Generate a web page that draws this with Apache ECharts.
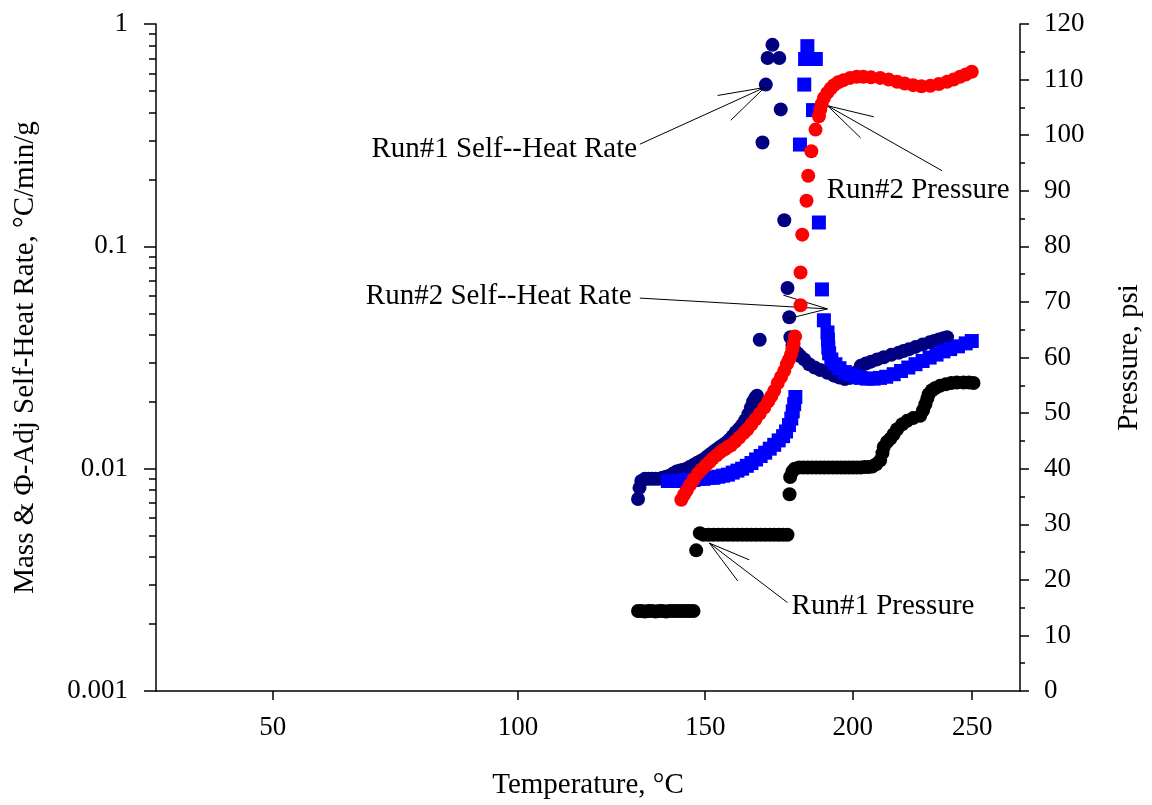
<!DOCTYPE html>
<html><head><meta charset="utf-8">
<script src="https://cdn.jsdelivr.net/npm/echarts@6/dist/echarts.min.js"></script>
<style>html,body{margin:0;padding:0;background:#fff}#c{width:1152px;height:805px}</style>
</head><body><div id="c"></div>
<script>
// ---- data (temperature in °C) ----
const tempTicks = [50, 100, 150, 200, 250];
const tempRange = [30.6, 273.1];
const rateRange = [0.001, 1];
const pressureRange = [0, 120];
const pressureStep = 10;

// Run#1 self-heat rate [T, °C/min/g]
const run1Rate = [
 [130.6,0.0073],[131.0,0.0082],[131.5,0.0088],[132.5,0.0090],[133.5,0.0090],[134.5,0.0090],[135.5,0.0090],
 [136.5,0.0090],[137.5,0.0091],[138.5,0.0092],[139.5,0.0093],[140.5,0.0095],[141.5,0.0097],[142.5,0.0098],
 [143.5,0.0099],[144.5,0.0100],[145.5,0.0102],[146.5,0.0104],[147.5,0.0106],[148.5,0.0108],[149.5,0.0110],
 [150.5,0.0113],[151.5,0.0116],[152.5,0.0119],[153.5,0.0122],[154.5,0.0125],[155.5,0.0128],[156.5,0.0131],
 [157.5,0.0135],[158.5,0.0140],[159.5,0.0146],[160.5,0.0151],[161.5,0.0157],[162.5,0.0165],[163.5,0.0176],
 [164.3,0.0188],[165.0,0.0200],[165.7,0.0208],[166.3,0.0213],
 [167.2,0.038],[168.1,0.293],[169.2,0.534],[169.8,0.703],[171.4,0.806],[173.7,0.703],[174.2,0.413],
 [175.4,0.131],[176.5,0.065],[177.1,0.048],
 [177.5,0.039],[178.2,0.036],[179.0,0.034],[180.0,0.033],[181.0,0.032],[182.3,0.031],[184.0,0.0295],
 [186.0,0.0285],[188.0,0.0278],[190.6,0.0270],[193.0,0.0262],[195.0,0.0257],[197.0,0.0253],[199.0,0.0256],
 [201.0,0.0270],[203.0,0.0290],[205.0,0.0297],[207.0,0.0303],[209.4,0.0310],[212.0,0.0317],[215.0,0.0325],
 [218.0,0.0332],[220.0,0.0338],[222.2,0.0344],[225.0,0.0353],[228.0,0.0362],[231.0,0.0370],[233.0,0.0375],
 [235.0,0.0381],[237.0,0.0386],[238.6,0.0390]
];

// Run#2 self-heat rate [T, °C/min/g]
const run2Rate = [
 [139.0,0.0088],[140.5,0.0088],[142.0,0.0088],[143.5,0.0089],[145.0,0.0089],[146.5,0.0089],[148.0,0.0090],
 [149.5,0.0090],[151.0,0.0091],[152.5,0.0091],[154.0,0.0092],[155.5,0.0093],[157.0,0.0094],[158.5,0.0096],
 [160.0,0.0098],[161.5,0.0100],[163.0,0.0103],[164.5,0.0106],[166.0,0.0110],[167.5,0.0114],[169.0,0.0118],
 [170.5,0.0123],[172.0,0.0128],[173.5,0.0134],[175.0,0.0140],[176.0,0.0147],[177.0,0.0157],[177.8,0.0168],
 [178.3,0.0181],[178.8,0.0195],[179.2,0.0210],
 [180.8,0.287],[182.3,0.534],[183.4,0.795],[182.6,0.696],[186.4,0.696],[185.4,0.41],[187.5,0.128],
 [188.6,0.064],[189.3,0.0465],
 [190.6,0.041],[190.8,0.038],[190.9,0.035],[191.2,0.033],[192.0,0.031],[193.5,0.0295],[195.0,0.0283],
 [197.0,0.0272],[199.0,0.0265],[201.0,0.0260],[203.0,0.0256],[205.5,0.0254],[208.0,0.0254],[210.5,0.0256],
 [213.0,0.0259],[216.0,0.0266],[219.0,0.0275],[222.0,0.0285],[225.0,0.0295],[228.0,0.0305],[231.0,0.0316],
 [234.0,0.0326],[237.0,0.0337],[240.0,0.0345],[243.5,0.0355],[247.0,0.0366],[249.8,0.0375]
];

// Run#1 pressure [T, psi]
const run1Pressure = [
 [130.6,14.4],[131.5,14.4],[132.5,14.3],[133.5,14.4],[134.5,14.4],[135.5,14.3],[136.5,14.4],[137.5,14.4],
 [138.5,14.3],[139.5,14.4],[140.5,14.4],[141.5,14.4],[142.5,14.4],[143.5,14.4],[144.5,14.4],[145.5,14.4],[146.5,14.4],
 [147.3,25.3],
 [148.4,28.4],[149.5,28.1],[151.0,28.1],[152.5,28.1],[154.0,28.1],[155.5,28.1],[157.0,28.1],[158.5,28.1],
 [160.0,28.1],[161.5,28.1],[163.0,28.1],[164.5,28.1],[166.0,28.1],[167.5,28.1],[169.0,28.1],[170.5,28.1],
 [172.0,28.1],[173.5,28.1],[175.0,28.1],[176.5,28.1],
 [177.2,35.4],
 [177.4,38.5],[178.2,39.5],[179.0,40.0],[180.5,40.2],[182.0,40.2],[183.5,40.2],[185.0,40.2],[186.5,40.2],
 [188.0,40.2],[189.5,40.2],[191.0,40.2],[192.5,40.2],[194.0,40.2],[195.5,40.2],[197.0,40.2],[198.5,40.2],
 [200.0,40.2],[201.5,40.2],[203.0,40.2],[204.5,40.3],[206.0,40.3],[207.5,40.4],[209.0,40.8],[210.6,41.5],
 [211.5,42.8],[212.0,43.9],[213.3,44.8],[214.7,45.4],[216.0,46.2],[217.4,47.1],[219.5,48.0],[221.5,48.6],
 [224.0,49.1],[227.0,49.5],[228.2,50.5],[229.2,51.6],[230.0,52.6],[230.6,53.4],[232.0,54.1],[233.5,54.5],
 [235.5,54.9],[238.0,55.2],[240.5,55.4],[243.0,55.5],[246.0,55.5],[248.5,55.5],[250.6,55.4]
];

// Run#2 pressure [T, psi]
const run2Pressure = [
 [142.9,34.4],[143.7,35.3],[144.5,36.1],[145.5,37.1],[146.6,38.1],[147.8,39.1],[149.0,39.9],[150.2,40.6],
 [151.3,41.2],[152.3,41.8],[153.5,42.4],[154.7,43.0],[156.0,43.5],[157.0,43.9],[158.0,44.2],[159.3,44.9],
 [160.6,45.6],[162.0,46.4],[163.2,47.1],[164.5,48.0],[165.8,48.9],[167.2,49.9],[168.7,51.0],[170.0,52.1],
 [171.0,53.0],[172.0,54.0],[173.2,55.4],[174.3,56.5],[175.4,57.6],[176.3,58.8],[177.0,59.6],[177.7,60.5],
 [178.2,61.5],[178.6,62.5],[179.1,63.8],
 [181.0,69.4],[181.0,75.3],[181.6,82.1],[183.1,88.2],[183.7,92.7],[184.8,97.1],[186.3,101.0],
 [187.5,103.4],[188.0,104.6],[188.5,105.6],[189.3,106.7],[190.5,107.6],[191.8,108.4],[193.0,109.0],
 [194.5,109.5],[196.5,109.9],[199.0,110.3],[201.5,110.5],[204.0,110.5],[207.0,110.4],[210.6,110.3],
 [214.0,110.0],[217.4,109.6],[220.5,109.3],[224.0,109.0],[227.5,108.8],[231.3,108.9],[235.0,109.2],
 [238.6,109.6],[241.5,110.0],[244.4,110.5],[247.0,110.9],[249.8,111.4]
];

// annotations: text anchor, line start, arrow tip, two barb ends (T, value on the series' own axis)
const annotations = [
 {text:'Run#1 Self--Heat Rate', axis:0, at:[68.4,0.273], from:[131.1,0.288], tip:[168.8,0.518], barbs:[[153.8,0.477],[157.9,0.369]]},
 {text:'Run#2 Self--Heat Rate', axis:0, at:[67.3,0.0598], from:[131.1,0.0585], tip:[190.6,0.0523], barbs:[[175.1,0.0603],[176.5,0.0472]]},
 {text:'Run#2 Pressure', axis:1, at:[190.3,90.0], from:[236.4,93.6], tip:[190.6,105.3], barbs:[[208.1,103.3],[203.0,99.5]]},
 {text:'Run#1 Pressure', axis:1, at:[177.9,15.3], from:[176.5,15.9], tip:[151.3,26.6], barbs:[[163.8,23.6],[160.1,19.8]]}
];

// ---- chart ----
const FONT = '"Liberation Serif","Times New Roman",serif';
function toU(t){ return -1000 / (t + 273.15); }
function fromU(u){ return -1000 / u - 273.15; }
function pts(arr){ return arr.map(p => [toU(p[0]), p[1]]); }

const minorLog = [];
for (let d = Math.log10(rateRange[0]); d < Math.log10(rateRange[1]); d++) {
  for (let k = 2; k <= 9; k++) minorLog.push(d + Math.log10(k));
}
const tickU = tempTicks.map(toU);

const chart = echarts.init(document.getElementById('c'), null, {renderer:'canvas'});

const axisLineStyle = {color:'#000', width:1.5};
function dots(name, yi, arr, symbol, color, z){
  return {type:'scatter', name:name, yAxisIndex:yi, data:pts(arr), symbol:symbol, symbolSize:14,
    itemStyle:{color:color, opacity:1}, emphasis:{disabled:true}, silent:true, z:z};
}
const series = [
  dots('Run#1 Self-Heat Rate', 0, run1Rate, 'circle', '#000080', 2),
  dots('Run#2 Self-Heat Rate', 0, run2Rate, 'rect', '#0000ff', 3),
  dots('Run#1 Pressure', 1, run1Pressure, 'circle', '#000000', 4),
  dots('Run#2 Pressure', 1, run2Pressure, 'circle', '#ff0000', 5)
];
annotations.forEach(a => {
  const c = p => ({coord:[toU(p[0]), p[1]]});
  series.push({
    type:'scatter', yAxisIndex:a.axis, silent:true, z:6,
    data:[[toU(a.at[0]), a.at[1]]], symbolSize:0, itemStyle:{color:'#000', opacity:1},
    label:{show:true, position:'right', distance:0, formatter:a.text, color:'#000', opacity:1, fontSize:29, fontFamily:FONT},
    markLine:{silent:true, symbol:['none','none'], label:{show:false}, animation:false,
      lineStyle:{color:'#000', width:1, type:'solid', opacity:1},
      emphasis:{disabled:true},
      data:[[c(a.from), c(a.tip)], [c(a.barbs[0]), c(a.tip)], [c(a.barbs[1]), c(a.tip)]]}
  });
});

chart.setOption({
  animation:false,
  backgroundColor:'#fff',
  grid:{left:156, right:128, top:24, bottom:109, containLabel:false},
  xAxis:[{
    type:'value', min:toU(tempRange[0]), max:toU(tempRange[1]),
    name:'Temperature, °C', nameLocation:'middle', nameGap:80,
    nameTextStyle:{fontSize:29, fontFamily:FONT, color:'#000'},
    axisLine:{show:true, lineStyle:axisLineStyle, onZero:false},
    axisTick:{show:true, inside:false, length:9, lineStyle:axisLineStyle, customValues:tickU},
    axisLabel:{show:true, margin:23, fontSize:27, fontFamily:FONT, color:'#000', customValues:tickU,
      formatter:v => String(Math.round(fromU(v)))},
    splitLine:{show:false}
  }],
  yAxis:[{
    type:'log', logBase:10, min:rateRange[0], max:rateRange[1], position:'left',
    name:'Mass & Φ-Adj Self-Heat Rate, °C/min/g', nameLocation:'middle', nameGap:116,
    nameTextStyle:{fontSize:29, fontFamily:FONT, color:'#000'},
    axisLine:{show:true, lineStyle:axisLineStyle},
    axisTick:{show:true, inside:false, length:12, lineStyle:axisLineStyle},
    axisLabel:{margin:28, fontSize:27, fontFamily:FONT, color:'#000', formatter:v => String(Number(v.toPrecision(3)))},
    splitLine:{show:false}
  },{
    type:'value', min:pressureRange[0], max:pressureRange[1], interval:pressureStep, position:'right',
    name:'Pressure, psi', nameLocation:'middle', nameGap:95,
    nameTextStyle:{fontSize:29, fontFamily:FONT, color:'#000'},
    axisLine:{show:true, lineStyle:axisLineStyle},
    axisTick:{show:true, inside:false, length:9, lineStyle:axisLineStyle},
    minorTick:{show:true, splitNumber:2, length:5, lineStyle:{color:'#000', width:1.5}},
    axisLabel:{margin:24, fontSize:27, fontFamily:FONT, color:'#000'},
    splitLine:{show:false}, minorSplitLine:{show:false}
  },{
    type:'value', min:Math.log10(rateRange[0]), max:Math.log10(rateRange[1]), position:'left',
    axisLine:{show:false},
    axisTick:{show:true, inside:false, length:7, lineStyle:axisLineStyle, customValues:minorLog},
    axisLabel:{show:false},
    splitLine:{show:false}
  }],
  series:series
});
</script>
</body></html>
